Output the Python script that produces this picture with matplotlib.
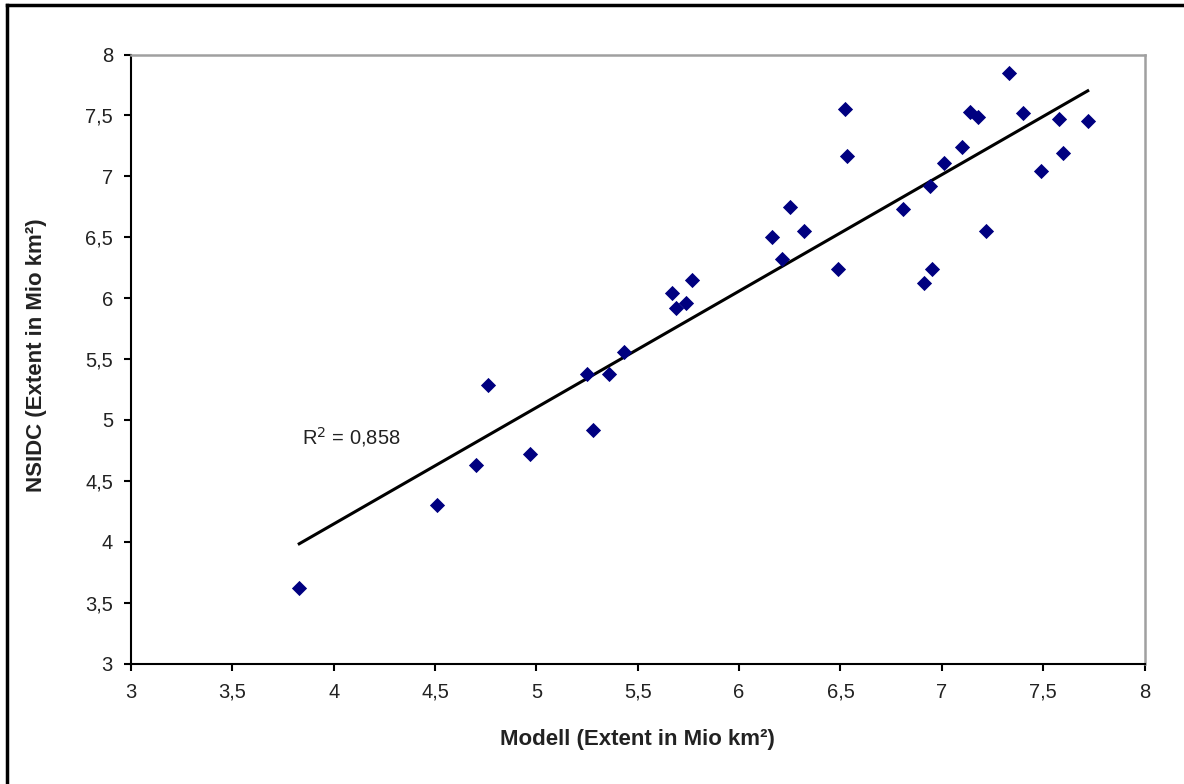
import matplotlib
matplotlib.use("Agg")
import matplotlib.pyplot as plt
import numpy as np
from matplotlib.lines import Line2D

plt.rcParams['font.family'] = ['Liberation Sans', 'DejaVu Sans']

modell = [3.83, 4.51, 4.70, 4.76, 4.97, 5.25, 5.28, 5.36, 5.43, 5.67, 5.69, 5.74, 5.77,
          6.16, 6.21, 6.25, 6.32, 6.49, 6.52, 6.53, 6.81, 6.91, 6.94, 6.95, 7.01, 7.10,
          7.14, 7.18, 7.22, 7.33, 7.40, 7.49, 7.58, 7.60, 7.72]
nsidc = [3.62, 4.30, 4.63, 5.29, 4.72, 5.38, 4.92, 5.38, 5.56, 6.04, 5.92, 5.96, 6.15,
         6.50, 6.32, 6.75, 6.55, 6.24, 7.55, 7.17, 6.73, 6.12, 6.92, 6.24, 7.11, 7.24,
         7.53, 7.49, 6.55, 7.85, 7.52, 7.04, 7.47, 7.19, 7.45]
r2_label = "R$^2$ = 0,858"
xticks = [3, 3.5, 4, 4.5, 5, 5.5, 6, 6.5, 7, 7.5, 8]
yticks = [3, 3.5, 4, 4.5, 5, 5.5, 6, 6.5, 7, 7.5, 8]

def fmt(v):
    s = ("%g" % v)
    return s.replace('.', ',')

fig = plt.figure(figsize=(11.84, 7.84), dpi=100)
ax = fig.add_axes([131/1184, 1 - 663.5/784, (1144.5 - 131)/1184, (663.5 - 54.5)/784])

x = np.array(modell)
y = np.array(nsidc)
ax.scatter(x, y, marker='D', s=60, color='#000080', zorder=3, linewidths=0)

coef = np.polyfit(x, y, 1)
xl = np.array([x.min(), x.max()])
ax.plot(xl, np.polyval(coef, xl), color='black', lw=2.2, zorder=2)

ax.text(3.845, 4.86, r2_label, ha='left', va='center', fontsize=14.5, color='#222222')

ax.set_xlim(3, 8)
ax.set_ylim(3, 8)
ax.set_xticks(xticks)
ax.set_yticks(yticks)
ax.set_xticklabels([fmt(v) for v in xticks])
ax.set_yticklabels([fmt(v) for v in yticks])
ax.tick_params(axis='both', direction='out', length=5, width=1.5, labelsize=14.5,
               color='black', labelcolor='#222222')
ax.tick_params(axis='x', pad=9)
ax.tick_params(axis='y', pad=8)
for side in ['left', 'bottom']:
    ax.spines[side].set_color('black')
    ax.spines[side].set_linewidth(1.5)
for side in ['top', 'right']:
    ax.spines[side].set_color('#a0a0a0')
    ax.spines[side].set_linewidth(1.8)

fig.text(637/1184, 1 - 739/784, "Modell (Extent in Mio km²)", fontsize=16, fontweight='bold',
         ha='center', va='center', color='#222222')
fig.text(37/1184, 1 - 355/784, "NSIDC (Extent in Mio km²)", fontsize=16, fontweight='bold',
         ha='center', va='center', rotation=90, color='#222222')

# outer chart border (left and top visible)
fig.add_artist(Line2D([7/1184, 7/1184], [0, 1 - 5/784], transform=fig.transFigure, color='black', lw=2.5))
fig.add_artist(Line2D([7/1184, 1], [1 - 5/784, 1 - 5/784], transform=fig.transFigure, color='black', lw=2.5))

fig.savefig("out.png", dpi=100)
